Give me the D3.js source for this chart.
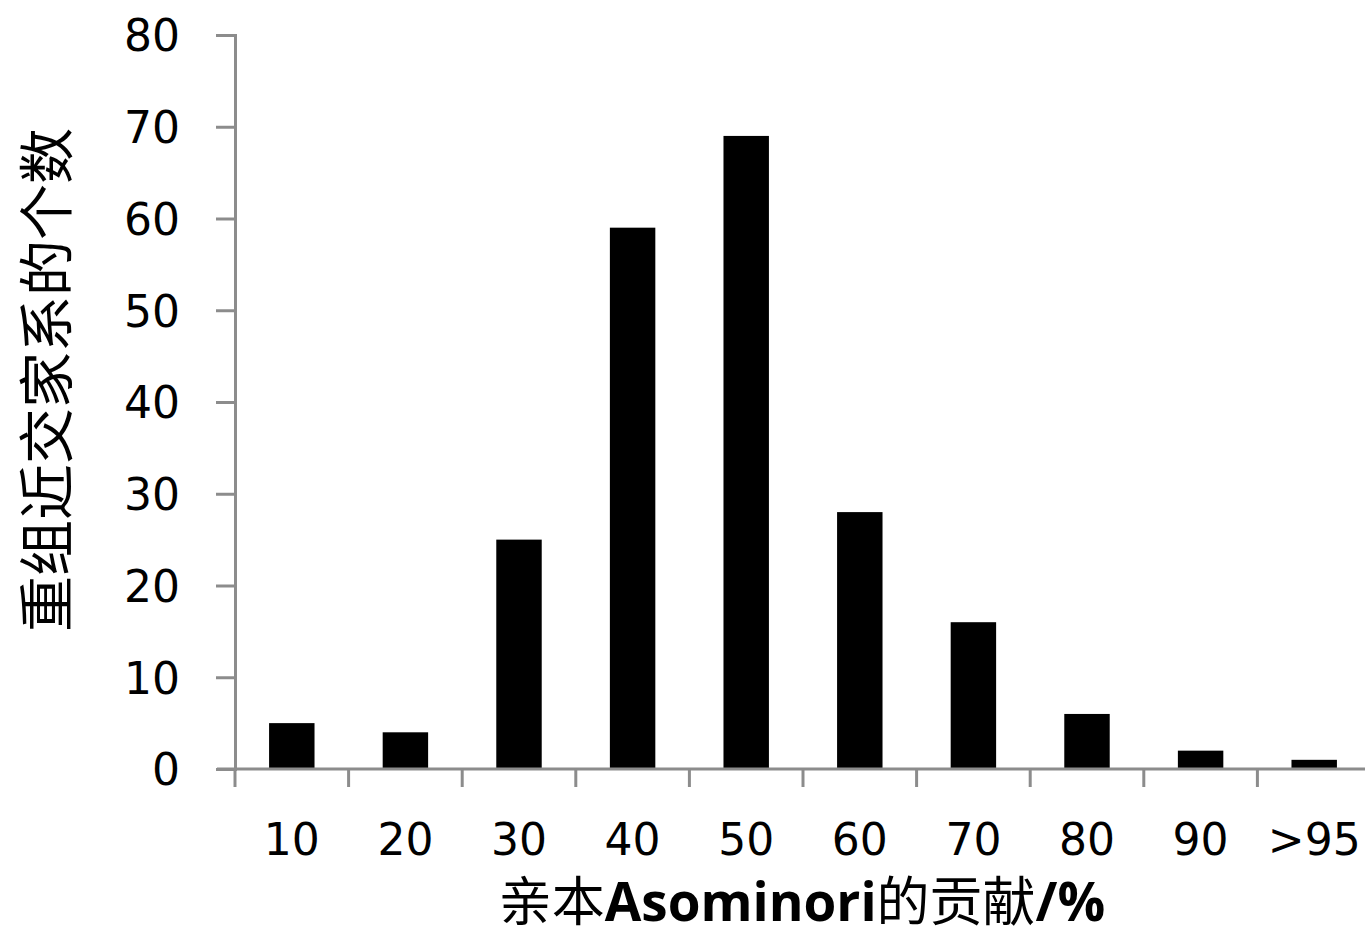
<!DOCTYPE html>
<html>
<head>
<meta charset="utf-8">
<script src="https://cdn.jsdelivr.net/npm/d3@7"></script>
<style>
  body { margin: 0; background: #fff; }
  svg { display: block; }
</style>
</head>
<body>
<div id="chart"></div>
<script>
// data
var categories = ["10", "20", "30", "40", "50", "60", "70", "80", "90", ">95"];
var counts = [5, 4, 25, 59, 69, 28, 16, 6, 2, 1];
var yTicks = [0, 10, 20, 30, 40, 50, 60, 70, 80];
var yTitle = "重组近交家系的个数";

var width = 1365, height = 937;

var svg = d3.select("#chart")
    .append("svg")
    .attr("width", width)
    .attr("height", height);

var x = d3.scaleBand()
    .domain(categories)
    .range([235, 1371])
    .paddingInner(0.6)
    .paddingOuter(0.3);

var xEdges = d3.scaleLinear()
    .domain([0, categories.length])
    .range([235, 1371]);

var y = d3.scaleLinear()
    .domain([0, 80])
    .range([769, 35]);

var axisColor = "#8c8c8c";
var tickFont = "'DejaVu Sans', Verdana, sans-serif";

// bars
svg.selectAll(".bar")
    .data(counts)
  .enter().append("rect")
    .attr("class", "bar")
    .attr("x", function(d, i) { return x(categories[i]); })
    .attr("y", function(d) { return y(d); })
    .attr("width", x.bandwidth())
    .attr("height", function(d) { return y(0) - y(d); })
    .attr("fill", "#000");

// y axis
var yAxis = svg.append("g")
    .attr("transform", "translate(235,0)")
    .call(d3.axisLeft(y).tickValues(yTicks).tickSize(19).tickPadding(36));
yAxis.select(".domain").attr("stroke", axisColor).attr("stroke-width", 3);
yAxis.selectAll(".tick line").attr("stroke", axisColor).attr("stroke-width", 3);
yAxis.selectAll(".tick text")
    .attr("fill", "#000")
    .attr("font-family", tickFont)
    .attr("font-size", 44)
    .attr("dy", "0.36em");

// x axis line + boundary ticks
svg.append("line")
    .attr("x1", 217).attr("x2", 1371)
    .attr("y1", y(0)).attr("y2", y(0))
    .attr("stroke", axisColor).attr("stroke-width", 3);

svg.selectAll(".xtick")
    .data(d3.range(categories.length + 1))
  .enter().append("line")
    .attr("class", "xtick")
    .attr("x1", function(d) { return xEdges(d); })
    .attr("x2", function(d) { return xEdges(d); })
    .attr("y1", y(0))
    .attr("y2", y(0) + 18)
    .attr("stroke", axisColor).attr("stroke-width", 3);

svg.selectAll(".xlabel")
    .data(categories)
  .enter().append("text")
    .attr("class", "xlabel")
    .attr("x", function(d) { return x(d) + x.bandwidth() / 2; })
    .attr("y", 855)
    .attr("text-anchor", "middle")
    .attr("font-family", tickFont)
    .attr("font-size", 44)
    .text(function(d) { return d; });

// axis titles
svg.append("text")
    .attr("transform", "translate(67,380) rotate(-90)")
    .attr("text-anchor", "middle")
    .attr("font-family", "'Noto Sans CJK SC', sans-serif")
    .attr("font-size", 56)
    .text(yTitle);

var xt = svg.append("text")
    .attr("x", 802)
    .attr("y", 921)
    .attr("text-anchor", "middle")
    .attr("font-size", 53);
xt.append("tspan")
    .attr("font-family", "'Noto Sans CJK SC', sans-serif")
    .text("亲本");
xt.append("tspan")
    .attr("font-family", "'Open Sans', sans-serif")
    .attr("font-weight", "bold")
    .text("Asominori");
xt.append("tspan")
    .attr("font-family", "'Noto Sans CJK SC', sans-serif")
    .text("的贡献");
xt.append("tspan")
    .attr("font-family", "'Open Sans', sans-serif")
    .attr("font-weight", "bold")
    .text("/%");
</script>
</body>
</html>
